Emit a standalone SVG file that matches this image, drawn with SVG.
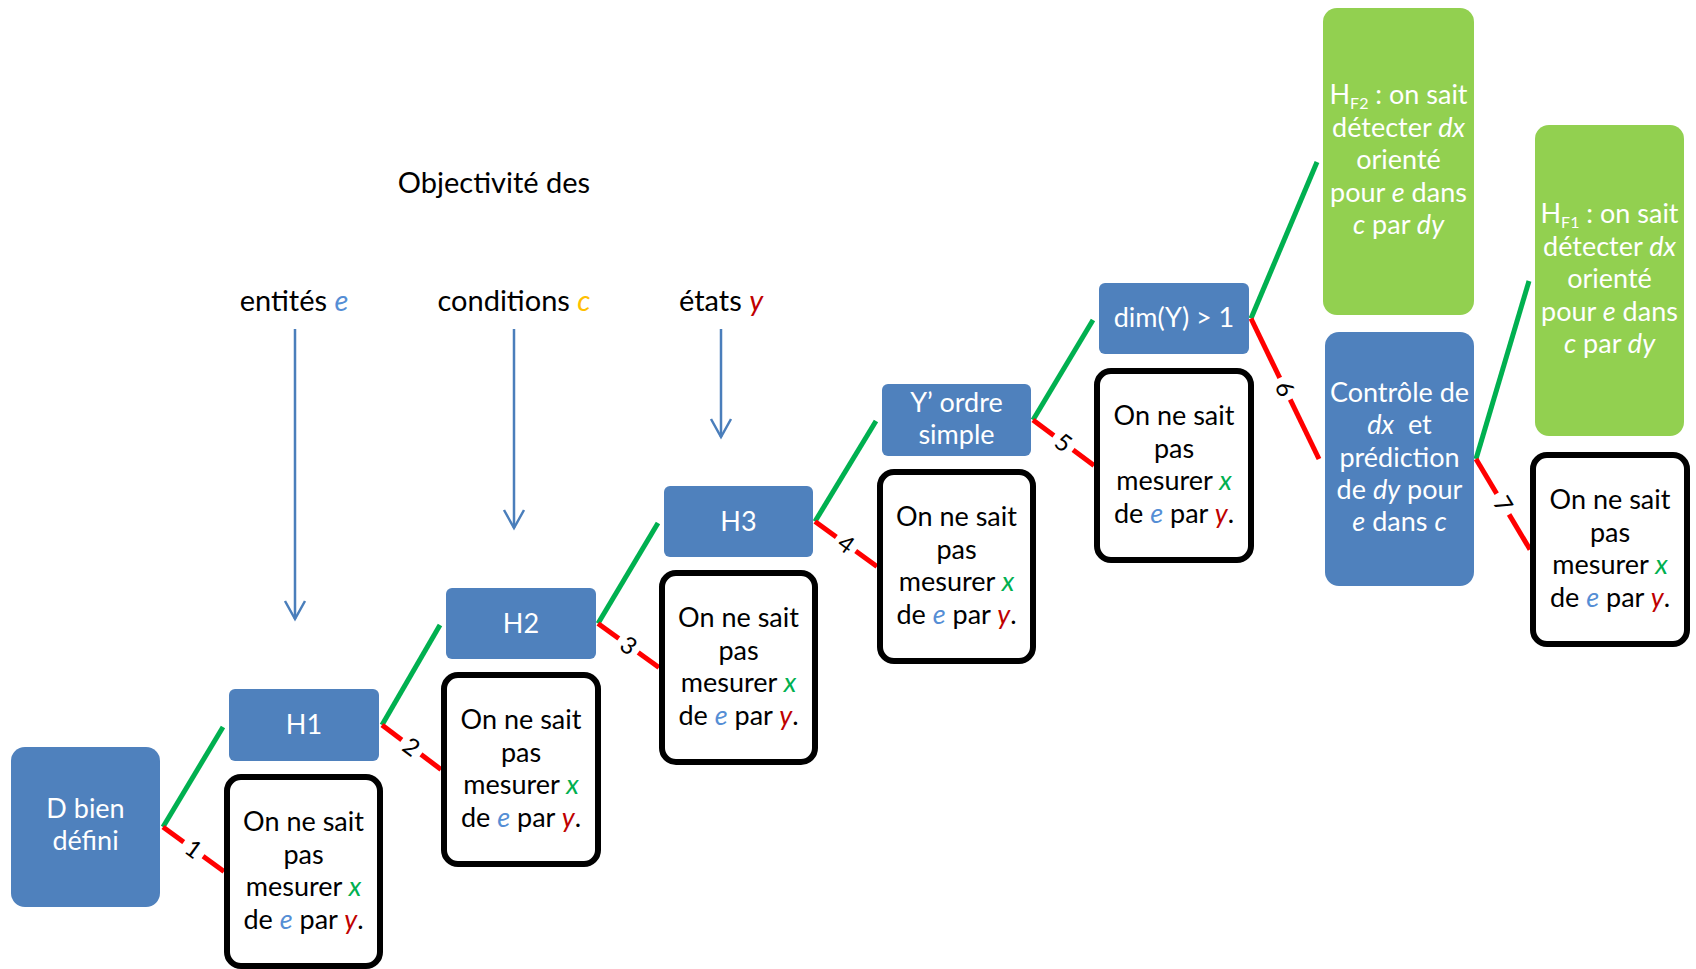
<svg xmlns="http://www.w3.org/2000/svg" width="1696" height="969" viewBox="0 0 1696 969">
<style>
text{font-family:Lato,"Liberation Sans",sans-serif;}
.blue{fill:#4F81BD;}
.green{fill:#92D050;}
.msg{fill:#ffffff;stroke:#000000;stroke-width:6;}
.nt{fill:#ffffff;font-size:27px;text-anchor:middle;}
.mt{fill:#000000;font-size:27px;text-anchor:middle;}
.tt{fill:#000000;font-size:29px;text-anchor:middle;}
.it{font-style:italic;}
.cx{fill:#00B050;font-style:italic;}
.ce{fill:#558ED5;font-style:italic;}
.cy{fill:#C00000;font-style:italic;}
.cc{fill:#FFC000;font-style:italic;}
.gl{stroke:#00B050;stroke-width:5;fill:none;}
.rl{stroke:#FF0000;stroke-width:5;fill:none;}
.ar{stroke:#4A7EBB;stroke-width:2.5;fill:none;}
.lb{fill:#000000;font-size:24px;text-anchor:middle;}
.sub{font-size:16px;baseline-shift:-5px;}
</style>
<defs>
<marker id="ah" markerUnits="userSpaceOnUse" markerWidth="30" markerHeight="30" refX="0" refY="0" orient="auto" viewBox="-20 -15 30 30" overflow="visible">
<path d="M-18,-10 L0,0 L-18,10" stroke="#4A7EBB" stroke-width="2.5" fill="none"/>
</marker>
</defs>

<g id="titles">
<text class="tt" x="494" y="193">Objectivité des</text>
<text class="tt" x="294" y="311">entités <tspan class="ce">e</tspan></text>
<text class="tt" x="514" y="311">conditions <tspan class="cc">c</tspan></text>
<text class="tt" x="721" y="311">états <tspan class="cy">y</tspan></text>
</g>

<g id="arrows">
<line class="ar" x1="295" y1="329" x2="295" y2="619" marker-end="url(#ah)"/>
<line class="ar" x1="514" y1="329" x2="514" y2="528" marker-end="url(#ah)"/>
<line class="ar" x1="721" y1="329" x2="721" y2="437" marker-end="url(#ah)"/>
</g>

<g id="connectors">
<line class="gl" x1="163" y1="827" x2="223" y2="727"/>
<line class="gl" x1="382" y1="725" x2="440" y2="625"/>
<line class="gl" x1="598" y1="623.5" x2="658" y2="523"/>
<line class="gl" x1="815" y1="521.5" x2="876" y2="421"/>
<line class="gl" x1="1033" y1="420" x2="1093" y2="320"/>
<line class="gl" x1="1251" y1="318.5" x2="1317" y2="162"/>
<line class="gl" x1="1476" y1="459" x2="1529" y2="281"/>

<line class="rl" x1="163" y1="827" x2="224" y2="871.5"/>
<line class="rl" x1="382" y1="725" x2="441" y2="769.5"/>
<line class="rl" x1="598" y1="623.5" x2="659" y2="667.5"/>
<line class="rl" x1="815" y1="521.5" x2="877" y2="566.5"/>
<line class="rl" x1="1033" y1="420" x2="1094" y2="465.5"/>
<line class="rl" x1="1251" y1="318.5" x2="1319" y2="459"/>
<line class="rl" x1="1476" y1="459" x2="1530" y2="549.5"/>

<g transform="translate(193.5,849) rotate(36)"><rect x="-12" y="-9" width="24" height="18" fill="#ffffff"/><text class="lb" x="0" y="8.5">1</text></g>
<g transform="translate(411.5,747) rotate(37)"><rect x="-12" y="-9" width="24" height="18" fill="#ffffff"/><text class="lb" x="0" y="8.5">2</text></g>
<g transform="translate(628.5,645.5) rotate(36)"><rect x="-12" y="-9" width="24" height="18" fill="#ffffff"/><text class="lb" x="0" y="8.5">3</text></g>
<g transform="translate(846,544) rotate(36)"><rect x="-12" y="-9" width="24" height="18" fill="#ffffff"/><text class="lb" x="0" y="8.5">4</text></g>
<g transform="translate(1063.5,442.7) rotate(37)"><rect x="-12" y="-9" width="24" height="18" fill="#ffffff"/><text class="lb" x="0" y="8.5">5</text></g>
<g transform="translate(1285,388.7) rotate(64)"><rect x="-12" y="-9" width="24" height="18" fill="#ffffff"/><text class="lb" x="0" y="8.5">6</text></g>
<g transform="translate(1503,504) rotate(59)"><rect x="-12" y="-9" width="24" height="18" fill="#ffffff"/><text class="lb" x="0" y="8.5">7</text></g>
</g>

<g id="node-D">
<rect class="blue" x="11" y="747" width="149" height="160" rx="14"/>
<text class="nt" x="85.5" y="818">D bien</text>
<text class="nt" x="85.5" y="850">défini</text>
</g>
<g id="node-H1">
<rect class="blue" x="229" y="689" width="150" height="72" rx="6"/>
<text class="nt" x="304" y="734">H1</text>
</g>
<g id="node-H2">
<rect class="blue" x="446" y="588" width="150" height="71" rx="6"/>
<text class="nt" x="521" y="632.5">H2</text>
</g>
<g id="node-H3">
<rect class="blue" x="664" y="486" width="149" height="71" rx="6"/>
<text class="nt" x="738.5" y="530.5">H3</text>
</g>
<g id="node-Yordre">
<rect class="blue" x="882" y="384" width="149" height="72" rx="6"/>
<text class="nt" x="956.5" y="412">Y’ ordre</text>
<text class="nt" x="956.5" y="444">simple</text>
</g>
<g id="node-dim">
<rect class="blue" x="1099" y="283" width="150" height="71" rx="6"/>
<text class="nt" x="1174" y="327">dim(Y) &gt; 1</text>
</g>
<g id="node-controle">
<rect class="blue" x="1325" y="332" width="149" height="254" rx="14"/>
<text class="nt" x="1399.5" y="402">Contrôle de</text>
<text class="nt" x="1399.5" y="434"><tspan class="it">dx</tspan>&#160; et</text>
<text class="nt" x="1399.5" y="466.5">prédiction</text>
<text class="nt" x="1399.5" y="498.5">de <tspan class="it">dy</tspan> pour</text>
<text class="nt" x="1399.5" y="531"><tspan class="it">e</tspan> dans <tspan class="it">c</tspan></text>
</g>
<g id="node-HF2">
<rect class="green" x="1323" y="8" width="151" height="307" rx="14"/>
<text class="nt" x="1398.5" y="104">H<tspan class="sub">F2</tspan> : on sait</text>
<text class="nt" x="1398.5" y="136.5">détecter <tspan class="it">dx</tspan></text>
<text class="nt" x="1398.5" y="169">orienté</text>
<text class="nt" x="1398.5" y="201.5">pour <tspan class="it">e</tspan> dans</text>
<text class="nt" x="1398.5" y="234"><tspan class="it">c</tspan> par <tspan class="it">dy</tspan></text>
</g>
<g id="node-HF1">
<rect class="green" x="1535" y="125" width="149" height="311" rx="14"/>
<text class="nt" x="1609.5" y="223">H<tspan class="sub">F1</tspan> : on sait</text>
<text class="nt" x="1609.5" y="255.5">détecter <tspan class="it">dx</tspan></text>
<text class="nt" x="1609.5" y="288">orienté</text>
<text class="nt" x="1609.5" y="320.5">pour <tspan class="it">e</tspan> dans</text>
<text class="nt" x="1609.5" y="353"><tspan class="it">c</tspan> par <tspan class="it">dy</tspan></text>
</g>

<g id="msg-1">
<rect class="msg" x="227" y="777" width="153" height="189" rx="14"/>
<text class="mt" x="303.5" y="831">On ne sait</text>
<text class="mt" x="303.5" y="863.5">pas</text>
<text class="mt" x="303.5" y="896">mesurer <tspan class="cx">x</tspan></text>
<text class="mt" x="303.5" y="928.5">de <tspan class="ce">e</tspan> par <tspan class="cy">y</tspan>.</text>
</g>
<g id="msg-2">
<rect class="msg" x="444" y="675" width="154" height="189" rx="14"/>
<text class="mt" x="521" y="729">On ne sait</text>
<text class="mt" x="521" y="761.5">pas</text>
<text class="mt" x="521" y="794">mesurer <tspan class="cx">x</tspan></text>
<text class="mt" x="521" y="826.5">de <tspan class="ce">e</tspan> par <tspan class="cy">y</tspan>.</text>
</g>
<g id="msg-3">
<rect class="msg" x="662" y="573" width="153" height="189" rx="14"/>
<text class="mt" x="738.5" y="627">On ne sait</text>
<text class="mt" x="738.5" y="659.5">pas</text>
<text class="mt" x="738.5" y="692">mesurer <tspan class="cx">x</tspan></text>
<text class="mt" x="738.5" y="724.5">de <tspan class="ce">e</tspan> par <tspan class="cy">y</tspan>.</text>
</g>
<g id="msg-4">
<rect class="msg" x="880" y="472" width="153" height="189" rx="14"/>
<text class="mt" x="956.5" y="526">On ne sait</text>
<text class="mt" x="956.5" y="558.5">pas</text>
<text class="mt" x="956.5" y="591">mesurer <tspan class="cx">x</tspan></text>
<text class="mt" x="956.5" y="623.5">de <tspan class="ce">e</tspan> par <tspan class="cy">y</tspan>.</text>
</g>
<g id="msg-5">
<rect class="msg" x="1097" y="371" width="154" height="189" rx="14"/>
<text class="mt" x="1174" y="425">On ne sait</text>
<text class="mt" x="1174" y="457.5">pas</text>
<text class="mt" x="1174" y="490">mesurer <tspan class="cx">x</tspan></text>
<text class="mt" x="1174" y="522.5">de <tspan class="ce">e</tspan> par <tspan class="cy">y</tspan>.</text>
</g>
<g id="msg-7">
<rect class="msg" x="1533" y="455" width="154" height="189" rx="14"/>
<text class="mt" x="1610" y="509">On ne sait</text>
<text class="mt" x="1610" y="541.5">pas</text>
<text class="mt" x="1610" y="574">mesurer <tspan class="cx">x</tspan></text>
<text class="mt" x="1610" y="606.5">de <tspan class="ce">e</tspan> par <tspan class="cy">y</tspan>.</text>
</g>
</svg>
